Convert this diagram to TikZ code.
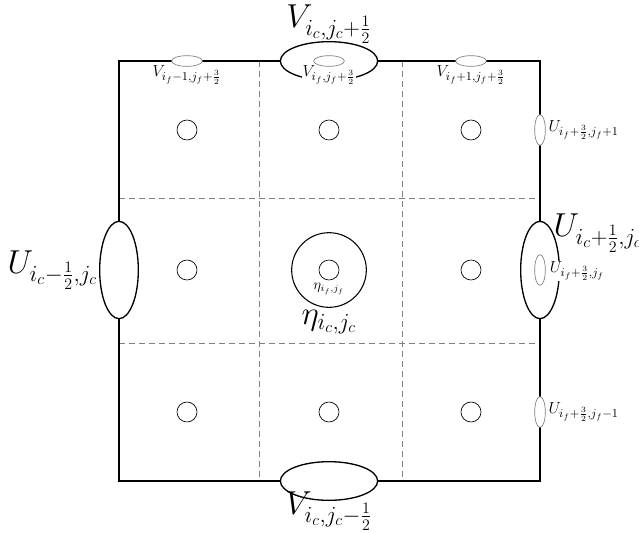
\documentclass[tikz,border=0pt]{standalone}
\usetikzlibrary{shapes.geometric}
\begin{document}
\begin{tikzpicture}[x=0.75pt,y=-0.75pt,
  border/.style={line width=1.4pt,black},
  grid/.style={gray,line width=0.5pt,dash pattern=on 4.5pt off 3pt},
  bigell/.style={draw,ellipse,line width=1pt,fill=white,inner sep=0pt},
  smallell/.style={draw=gray,ellipse,line width=0.5pt,fill=white,inner sep=0pt},
  cellc/.style={draw,circle,line width=0.5pt,minimum size=15pt,inner sep=0pt},
  biglab/.style={inner sep=1pt,font=\fontsize{24}{26}\selectfont},
  smalllab/.style={inner sep=1pt,font=\fontsize{12.5}{14}\selectfont},
  tinylab/.style={inner sep=1pt,font=\fontsize{10.5}{12}\selectfont}]
\useasboundingbox (0,0) rectangle (639,532);
% corners
\coordinate (tl) at (119,61);
\coordinate (tr) at (540,61);
\coordinate (br) at (540,481);
\coordinate (bl) at (119,481);
% grid endpoints
\coordinate (v1t) at (259,61); \coordinate (v1b) at (259,481);
\coordinate (v2t) at (402,61); \coordinate (v2b) at (402,481);
\coordinate (h1l) at (119,198); \coordinate (h1r) at (540,198);
\coordinate (h2l) at (119,343); \coordinate (h2r) at (540,343);
\draw[grid] (v1t) -- (v1b);
\draw[grid] (v2t) -- (v2b);
\draw[grid] (h1l) -- (h1r);
\draw[grid] (h2l) -- (h2r);
\draw[border] (tl) -- (tr) -- (br) -- (bl) -- cycle;
% cell circles
\foreach \i/\x in {1/187,2/329,3/471}{
  \foreach \j/\y in {1/130,2/270,3/412}{
    \node[cellc] (c\i\j) at (\x,\y) {};
  }
}
\node[draw,circle,line width=0.8pt,minimum size=56pt,inner sep=0pt] (eta) at (329,270) {};
% big ellipses
\node[bigell,minimum width=73pt,minimum height=29pt] (vtop) at (329,61) {};
\node[bigell,minimum width=73pt,minimum height=29pt] (vbot) at (329,481) {};
\node[bigell,minimum width=29pt,minimum height=73pt] (uleft) at (119,270) {};
\node[bigell,minimum width=29pt,minimum height=73pt] (uright) at (540,270) {};
% labels
\node[biglab] (lvtop) at (329,24) {$V_{i_c,j_c+\frac{1}{2}}$};
\node[biglab] (lvbot) at (329,511) {$V_{i_c,j_c-\frac{1}{2}}$};
\node[biglab,anchor=east] (luleft) at (99,270) {$U_{i_c-\frac{1}{2},j_c}$};
\node[biglab,anchor=west] (luright) at (552,233) {$U_{i_c+\frac{1}{2},j_c}$};
\node[biglab] (leta) at (329,322) {$\eta_{i_c,j_c}$};
\node[tinylab] (letaf) at (329,289) {$\eta_{i_f,j_f}$};
\node[smalllab] (ls1) at (187,75) {$V_{i_f-1,j_f+\frac{3}{2}}$};
\node[smalllab,fill=white,inner sep=0.5pt] (ls2) at (329,75) {$V_{i_f,j_f+\frac{3}{2}}$};
\node[smalllab] (ls3) at (471,75) {$V_{i_f+1,j_f+\frac{3}{2}}$};
\node[smalllab,anchor=west] (lr1) at (547,130) {$U_{i_f+\frac{3}{2},j_f+1}$};
\node[smalllab,anchor=west,fill=white,inner sep=0.5pt] (lr2) at (549,271) {$U_{i_f+\frac{3}{2},j_f}$};
\node[smalllab,anchor=west] (lr3) at (547,412) {$U_{i_f+\frac{3}{2},j_f-1}$};
% small ellipses
\node[smallell,minimum width=23pt,minimum height=8pt] (s1) at (187,61) {};
\node[smallell,minimum width=23pt,minimum height=8pt] (s2) at (329,61) {};
\node[smallell,minimum width=23pt,minimum height=8pt] (s3) at (471,61) {};
\node[smallell,minimum width=8pt,minimum height=23pt] (r1) at (540,130) {};
\node[smallell,minimum width=8pt,minimum height=23pt] (r2) at (540,270) {};
\node[smallell,minimum width=8pt,minimum height=23pt] (r3) at (540,412) {};
\end{tikzpicture}
\end{document}
